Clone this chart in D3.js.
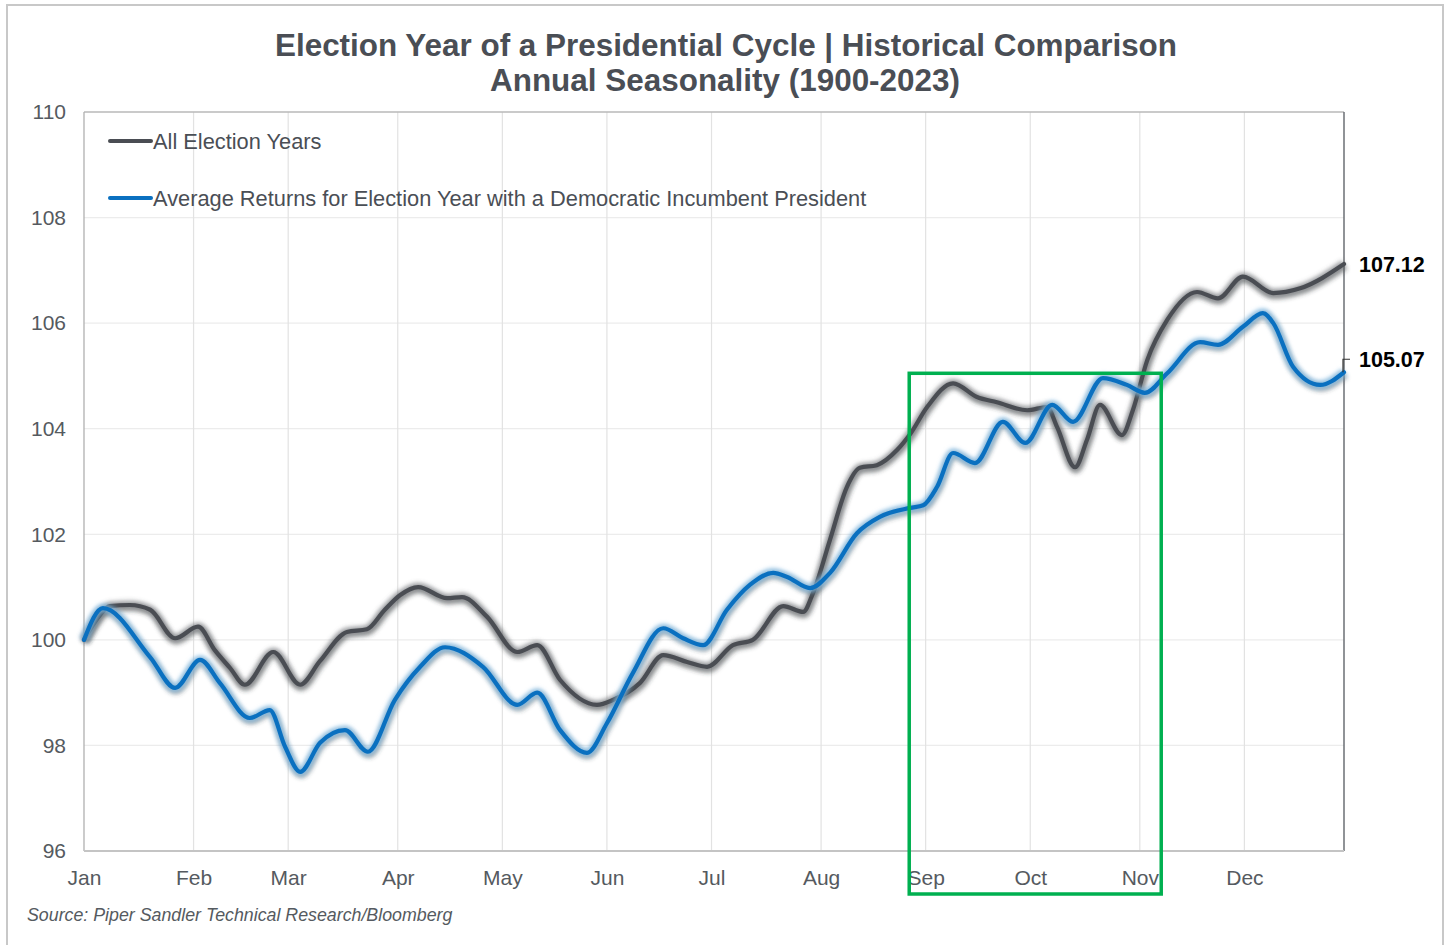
<!DOCTYPE html>
<html>
<head>
<meta charset="utf-8">
<script src="https://cdn.jsdelivr.net/npm/d3@7"></script>
<style>
  html, body { margin: 0; padding: 0; background: #ffffff; }
  svg { display: block; font-family: "Liberation Sans", Arial, sans-serif; }
</style>
</head>
<body>
<svg id="chart" width="1450" height="945"></svg>
<script>
// Trading-day axis: one year of sessions, with the first session of each month
const tradingDays = 253;
const monthStarts = [0, 22, 41, 63, 84, 105, 126, 148, 169, 190, 212, 233];
const monthLabels = ["Jan", "Feb", "Mar", "Apr", "May", "Jun", "Jul", "Aug", "Sep", "Oct", "Nov", "Dec"];
const yTicks = [96, 98, 100, 102, 104, 106, 108, 110];

// All election years (index, start of year = 100)
const allDays = [0, 3.2, 5.2, 9.2, 13.3, 18.3, 22.9, 26.3, 29.3, 32.3, 38, 43.4, 47.4, 52.8, 56.8, 60.4, 63.5, 67.1, 72.9, 75.9, 80.9, 87, 91, 95.6, 103, 106.2, 111.6, 116.3, 121.1, 125.1, 130.3, 134.3, 140.4, 144.4, 146.4, 149.8, 153.2, 155.8, 159.2, 163.3, 165.9, 169.3, 174.5, 179.3, 183.3, 189.4, 193.4, 195.4, 199, 201.4, 204, 208.4, 210.6, 213.5, 217.5, 223.5, 227.7, 232.7, 238.8, 244.2, 253];
const allValues = [100.0, 100.47, 100.64, 100.66, 100.57, 100.03, 100.25, 99.8, 99.47, 99.15, 99.77, 99.15, 99.6, 100.15, 100.2, 100.57, 100.85, 101.0, 100.79, 100.81, 100.44, 99.77, 99.9, 99.24, 98.77, 98.86, 99.18, 99.71, 99.58, 99.49, 99.9, 100.0, 100.64, 100.53, 100.89, 101.9, 102.9, 103.26, 103.31, 103.6, 103.9, 104.41, 104.86, 104.6, 104.5, 104.35, 104.41, 104.03, 103.27, 103.79, 104.45, 103.88, 104.35, 105.3, 106.06, 106.59, 106.47, 106.88, 106.57, 106.66, 107.12];

// Election years with a Democratic incumbent
const demDays = [0, 3.8, 13.3, 18.3, 23.3, 27.3, 33.3, 37.3, 40.4, 43.4, 47.4, 52.4, 57, 62.4, 67.5, 72.5, 80.1, 87, 91, 95.6, 101, 105, 110.2, 116.3, 120.3, 124.3, 129.1, 133.7, 138.4, 141.2, 145.8, 149.8, 155.2, 159.8, 165.9, 168.5, 171.3, 174.5, 178.9, 184.5, 189, 194.4, 198.6, 204.6, 209.4, 213, 217.5, 224.1, 227.7, 232.7, 236.7, 238.8, 242.8, 248.2, 253];
const demValues = [100.0, 100.6, 99.67, 99.09, 99.62, 99.18, 98.52, 98.67, 97.97, 97.5, 98.05, 98.29, 97.88, 98.86, 99.49, 99.86, 99.49, 98.77, 99.0, 98.29, 97.86, 98.42, 99.37, 100.22, 100.03, 99.9, 100.57, 101.04, 101.27, 101.19, 100.98, 101.27, 102.02, 102.33, 102.5, 102.55, 102.9, 103.54, 103.35, 104.13, 103.73, 104.45, 104.13, 104.96, 104.83, 104.68, 105.05, 105.64, 105.59, 105.93, 106.19, 106.0, 105.17, 104.83, 105.07];

// Highlighted window (Sep through early Nov) in data units
const highlightDays = [165.7, 216.3];
const highlightTop = 105.05;

const seriesNames = ["All Election Years", "Average Returns for Election Year with a Democratic Incumbent President"];
const titleLines = ["Election Year of a Presidential Cycle | Historical Comparison", "Annual Seasonality (1900-2023)"];
const sourceText = "Source: Piper Sandler Technical Research/Bloomberg";

const svg = d3.select("#chart");
const W = 1450, H = 945;
const plot = { left: 84, right: 1344, top: 112, bottom: 851 };

const x = d3.scaleLinear().domain([0, tradingDays]).range([plot.left, plot.right]);
const y = d3.scaleLinear().domain([96, 110]).range([plot.bottom, plot.top]);

// Outer frame
svg.append("rect")
  .attr("x", 7).attr("y", 5).attr("width", W - 14).attr("height", H + 10)
  .attr("fill", "#ffffff").attr("stroke", "#c8c8c8").attr("stroke-width", 2);

// Filters for the soft halo under each line
const defs = svg.append("defs");
const blur = defs.append("filter").attr("id", "halo")
  .attr("x", "-5%").attr("y", "-20%").attr("width", "110%").attr("height", "140%");
blur.append("feGaussianBlur").attr("stdDeviation", 2.2);

// Titles
const title = svg.append("g").attr("fill", "#4a4e55").attr("font-weight", "bold").attr("text-anchor", "middle");
title.append("text").attr("x", 726).attr("y", 56).attr("font-size", 31)
  .attr("textLength", 902).attr("lengthAdjust", "spacingAndGlyphs").text(titleLines[0]);
title.append("text").attr("x", 725).attr("y", 91).attr("font-size", 31)
  .attr("textLength", 470).attr("lengthAdjust", "spacingAndGlyphs").text(titleLines[1]);

// Gridlines
const grid = svg.append("g");
grid.selectAll("line.h").data(yTicks.filter(v => v > 96 && v < 110)).join("line")
  .attr("x1", plot.left).attr("x2", plot.right)
  .attr("y1", d => y(d)).attr("y2", d => y(d))
  .attr("stroke", "#ececec").attr("stroke-width", 1.2);
grid.selectAll("line.v").data(monthStarts.slice(1)).join("line")
  .attr("x1", d => x(d)).attr("x2", d => x(d))
  .attr("y1", plot.top).attr("y2", plot.bottom)
  .attr("stroke", "#e2e2e2").attr("stroke-width", 1.2);

// Plot borders
svg.append("line").attr("x1", plot.left).attr("x2", plot.right).attr("y1", plot.top).attr("y2", plot.top)
  .attr("stroke", "#b8b8b8").attr("stroke-width", 1.3);
svg.append("line").attr("x1", plot.left).attr("x2", plot.left).attr("y1", plot.top).attr("y2", plot.bottom)
  .attr("stroke", "#b0b0b0").attr("stroke-width", 1.3);
svg.append("line").attr("x1", plot.right).attr("x2", plot.right).attr("y1", plot.top).attr("y2", plot.bottom)
  .attr("stroke", "#6b6f75").attr("stroke-width", 1.5);
svg.append("line").attr("x1", plot.left).attr("x2", plot.right).attr("y1", plot.bottom).attr("y2", plot.bottom)
  .attr("stroke", "#c4c4c4").attr("stroke-width", 2);

// Axes
const yAxis = svg.append("g").attr("transform", `translate(${plot.left - 18},0)`)
  .call(d3.axisLeft(y).tickValues(yTicks).tickSize(0).tickPadding(0).tickFormat(d3.format("d")));
yAxis.select(".domain").remove();
yAxis.selectAll("text").attr("font-size", 21).attr("fill", "#555a60")
  .attr("font-family", "'Liberation Sans', Arial, sans-serif");

const xAxis = svg.append("g").attr("transform", `translate(0,${plot.bottom + 19})`)
  .call(d3.axisBottom(x).tickValues(monthStarts).tickSize(0).tickPadding(0)
    .tickFormat((d, i) => monthLabels[i]));
xAxis.select(".domain").remove();
xAxis.selectAll("text").attr("font-size", 21).attr("fill", "#555a60")
  .attr("font-family", "'Liberation Sans', Arial, sans-serif");

// Lines
const line = d3.line().x(d => x(d[0])).y(d => y(d[1])).curve(d3.curveMonotoneX);
const allPts = allDays.map((d, i) => [d, allValues[i]]);
const demPts = demDays.map((d, i) => [d, demValues[i]]);

function drawSeries(pts, color, haloColor, haloOpacity) {
  const g = svg.append("g");
  g.append("path").datum(pts).attr("d", line)
    .attr("fill", "none").attr("stroke", "#3a3d42").attr("stroke-width", 8)
    .attr("stroke-opacity", 0.4).attr("filter", "url(#halo)")
    .attr("transform", "translate(1,2.5)");
  g.append("path").datum(pts).attr("d", line)
    .attr("fill", "none").attr("stroke", haloColor).attr("stroke-width", 9)
    .attr("stroke-opacity", haloOpacity).attr("filter", "url(#halo)");
  g.append("path").datum(pts).attr("d", line)
    .attr("fill", "none").attr("stroke", color).attr("stroke-width", 4.2)
    .attr("stroke-linejoin", "round").attr("stroke-linecap", "round");
}
drawSeries(allPts, "#4a4d53", "#5f6268", 0.5);
drawSeries(demPts, "#0a70c0", "#7fb9e2", 0.8);

// End-value labels
const lastAll = allPts[allPts.length - 1];
const lastDem = demPts[demPts.length - 1];
svg.append("text").attr("x", x(lastAll[0]) + 15).attr("y", y(lastAll[1]) + 8)
  .attr("font-size", 21.5).attr("font-weight", "bold").attr("fill", "#000000")
  .text(lastAll[1].toFixed(2));
const demLabelY = y(lastDem[1]) - 13;
svg.append("path")
  .attr("d", `M${x(lastDem[0]) - 1},${y(lastDem[1])} V${demLabelY} H${x(lastDem[0]) + 6}`)
  .attr("fill", "none").attr("stroke", "#333").attr("stroke-width", 1.2);
svg.append("text").attr("x", x(lastDem[0]) + 15).attr("y", demLabelY + 8)
  .attr("font-size", 21.5).attr("font-weight", "bold").attr("fill", "#000000")
  .text(lastDem[1].toFixed(2));

// Highlight box
svg.append("rect")
  .attr("x", x(highlightDays[0])).attr("y", y(highlightTop))
  .attr("width", x(highlightDays[1]) - x(highlightDays[0]))
  .attr("height", plot.bottom + 43 - y(highlightTop))
  .attr("fill", "none").attr("stroke", "#00b050").attr("stroke-width", 3.5);

// Legend
const legend = svg.append("g");
const legendRows = [
  { name: seriesNames[0], color: "#4a4d53", yy: 141 },
  { name: seriesNames[1], color: "#0a70c0", yy: 198 }
];
legendRows.forEach(r => {
  legend.append("line").attr("x1", 110).attr("x2", 151).attr("y1", r.yy).attr("y2", r.yy)
    .attr("stroke", r.color).attr("stroke-width", 4).attr("stroke-linecap", "round");
  legend.append("text").attr("x", 153).attr("y", r.yy + 7.5).attr("font-size", 21.8)
    .attr("fill", "#4a4e55").text(r.name);
});

// Source note
svg.append("text").attr("x", 27).attr("y", 921).attr("font-size", 17.8)
  .attr("font-style", "italic").attr("fill", "#555a60").text(sourceText);
</script>
</body>
</html>
